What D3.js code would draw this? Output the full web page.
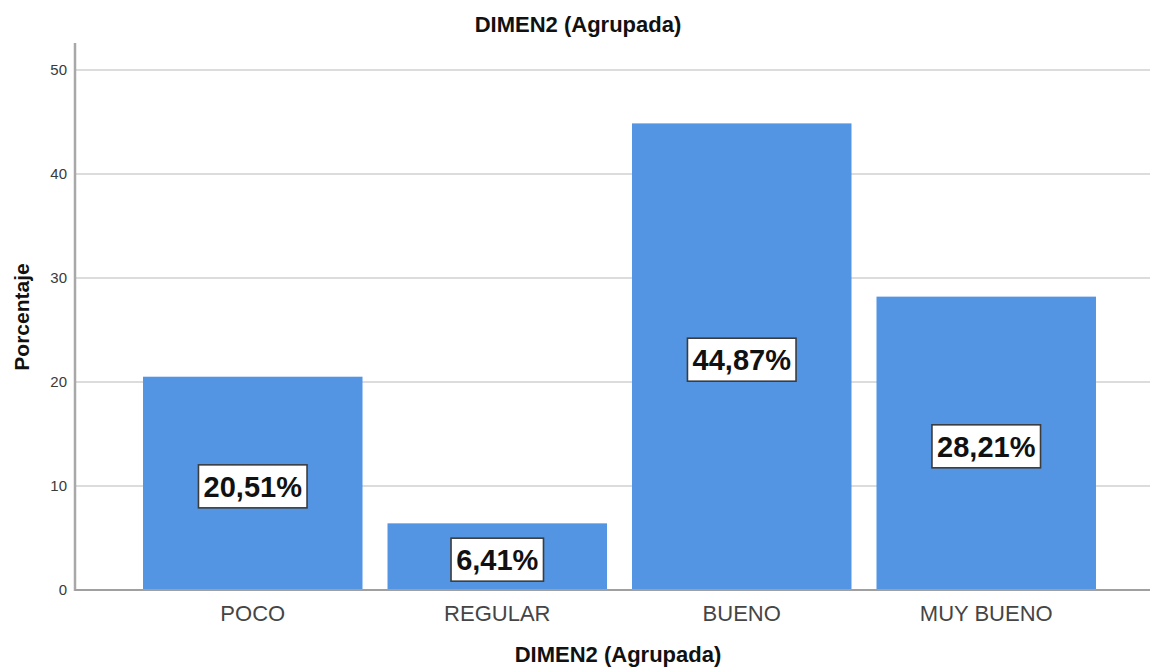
<!DOCTYPE html>
<html>
<head>
<meta charset="utf-8">
<script src="https://cdn.jsdelivr.net/npm/d3@7"></script>
<style>
  html, body { margin: 0; padding: 0; background: #fff; }
  svg { display: block; font-family: "Liberation Sans", Arial, sans-serif; }
</style>
</head>
<body>
<svg id="chart" width="1151" height="669"></svg>
<script>
const categories = ["POCO", "REGULAR", "BUENO", "MUY BUENO"];
const percentages = [20.51, 6.41, 44.87, 28.21];
const valueLabels = ["20,51%", "6,41%", "44,87%", "28,21%"];
const yTicks = [0, 10, 20, 30, 40, 50];
const chartTitle = "DIMEN2 (Agrupada)";
const xTitle = "DIMEN2 (Agrupada)";
const yTitle = "Porcentaje";

(function () {
const mLeft = 75, mRight = 1150, mTop = 43, mBottom = 590;

const svg = d3.select("#chart");

const y = d3.scaleLinear().domain([0, 52.6]).range([mBottom, mTop]);
const x = d3.scaleBand().domain(categories).range([130.5, 1108.5])
  .paddingInner(0.1023).paddingOuter(0.0512);

// gridlines
svg.append("g").selectAll("line").data(yTicks.filter(d => d > 0)).join("line")
  .attr("x1", mLeft).attr("x2", mRight)
  .attr("y1", d => y(d)).attr("y2", d => y(d))
  .attr("stroke", "#dcdcdc").attr("stroke-width", 2);

// y axis
const yAxis = svg.append("g").attr("transform", `translate(${mLeft},0)`)
  .call(d3.axisLeft(y).tickValues(yTicks).tickSize(0).tickPadding(8));
yAxis.select(".domain").remove();
yAxis.selectAll("text")
  .attr("font-size", 15).attr("fill", "#3a3a3a")
  .attr("font-family", "Liberation Sans, Arial, sans-serif");

// bars
svg.append("g").selectAll("rect").data(categories).join("rect")
  .attr("x", d => x(d))
  .attr("width", x.bandwidth())
  .attr("y", (d, i) => y(percentages[i]))
  .attr("height", (d, i) => mBottom - y(percentages[i]))
  .attr("fill", "#5394e3");

// axis lines
svg.append("line").attr("x1", mLeft).attr("x2", mLeft).attr("y1", mTop).attr("y2", mBottom + 1)
  .attr("stroke", "#a8a8a8").attr("stroke-width", 2.5);
svg.append("line").attr("x1", mLeft).attr("x2", mRight).attr("y1", mBottom).attr("y2", mBottom)
  .attr("stroke", "#a0a0a0").attr("stroke-width", 2);

// x axis labels
const xAxis = svg.append("g").attr("transform", `translate(0,${mBottom})`)
  .call(d3.axisBottom(x).tickSize(0).tickPadding(10));
xAxis.select(".domain").remove();
xAxis.selectAll("text")
  .attr("font-size", 22).attr("fill", "#454545")
  .attr("font-family", "Liberation Sans, Arial, sans-serif")
  .attr("dy", "0.71em")
  .attr("y", 15);

// value labels
const lab = svg.append("g").selectAll("g").data(categories).join("g")
  .attr("transform", (d, i) => {
    const cy = (y(percentages[i]) + mBottom) / 2 + 3;
    return `translate(${x(d) + x.bandwidth() / 2},${cy})`;
  });
lab.append("text")
  .attr("text-anchor", "middle")
  .attr("dy", "0.36em")
  .attr("font-size", 29).attr("font-weight", "bold").attr("fill", "#111")
  .text((d, i) => valueLabels[i]);
lab.each(function () {
  const g = d3.select(this);
  const bb = g.select("text").node().getBBox();
  const pw = bb.width + 10, ph = 43;
  g.insert("rect", "text")
    .attr("x", -pw / 2).attr("y", -ph / 2)
    .attr("width", pw).attr("height", ph)
    .attr("fill", "#fff").attr("stroke", "#3c3c3c").attr("stroke-width", 1.6);
});

// titles
svg.append("text").attr("x", 578).attr("y", 32).attr("text-anchor", "middle")
  .attr("font-size", 22).attr("font-weight", "bold").attr("fill", "#111").text(chartTitle);
svg.append("text").attr("x", 618).attr("y", 662).attr("text-anchor", "middle")
  .attr("font-size", 22).attr("font-weight", "bold").attr("fill", "#111").text(xTitle);
svg.append("text").attr("transform", "translate(29,317) rotate(-90)").attr("text-anchor", "middle")
  .attr("font-size", 21).attr("font-weight", "bold").attr("fill", "#111").text(yTitle);
})();
</script>
</body>
</html>
